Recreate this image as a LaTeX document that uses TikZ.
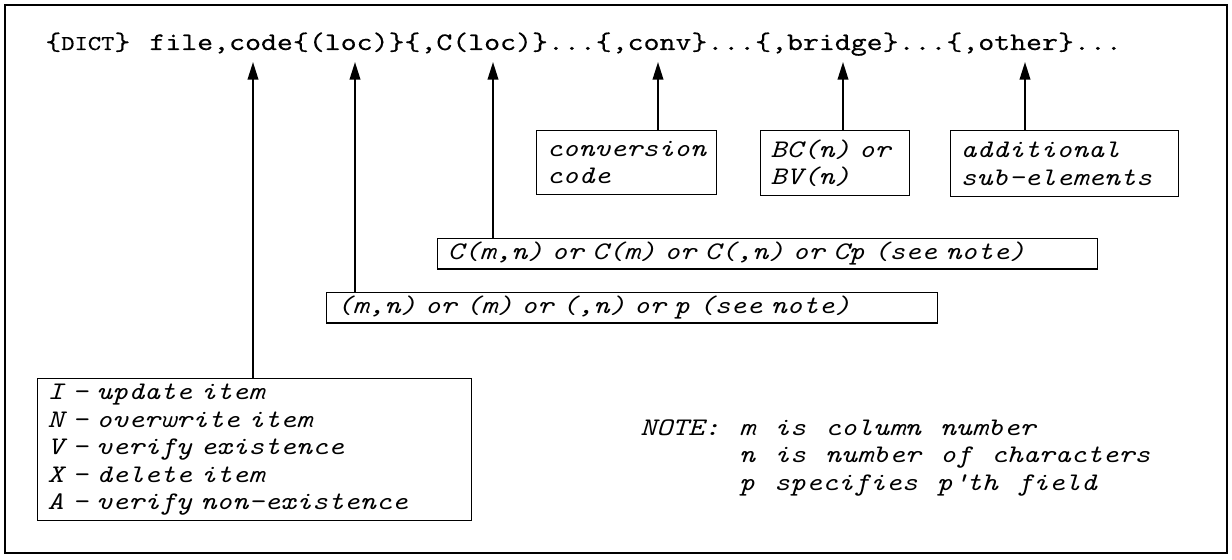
\documentclass[tikz,border=0pt]{standalone}
\usepackage{fontspec}
\usetikzlibrary{arrows.meta}
\newfontfamily\cmdfont{lmmono10-regular.otf}[FakeStretch=1.2, WordSpace={1.2,0,0}, FakeBold=0.3]
\newfontfamily\itfont{lmmono10-italic.otf}[FakeStretch=1.2, WordSpace={1.2,0,0}]

\begin{document}
\begin{tikzpicture}[x=0.02cm, y=-0.02cm,
  every node/.style={inner sep=0pt},
  cmd/.style={font=\cmdfont\fontsize{14.4}{15.9}\selectfont, anchor=base west},
  txt/.style={font=\itfont\fontsize{14.4}{15.7}\selectfont},
  box/.style={txt, draw, line width=0.8pt, align=left, anchor=north west, inner xsep=0.2cm},
  arr/.style={line width=1.1pt, -{Triangle[length=10pt,width=6pt]}}]
  \useasboundingbox (0,0) rectangle (1232,560);

  % outer frame
  \draw[line width=1.1pt] (5,5) rectangle (1227,553);

  % statement format
  \node[cmd] (cmdline) at (45,50) {\{{\fontsize{12}{12}\selectfont DICT}\} file,code\{(loc)\}\{,C(loc)\}...\{,conv\}...\{,bridge\}...\{,other\}...};

  % arrow tips under the fields
  \coordinate (tcode) at (253,62);
  \coordinate (tloc) at (355,62);
  \coordinate (tcloc) at (493,62);
  \coordinate (tconv) at (658,62);
  \coordinate (tbrdg) at (843,62);
  \coordinate (tothr) at (1025,62);

  % sub-element boxes
  \node[box, text width=3.2cm, minimum height=1.28cm] (conv) at (536,130) {conversion\\code};
  \node[box, text width=2.58cm, minimum height=1.3cm] (brdg) at (760,130) {BC(n) or\\BV(n)};
  \node[box, text width=4.16cm, minimum height=1.32cm] (othr) at (950,130) {additional\\sub-elements};
  \node[box, text width=12.8cm, inner ysep=0.07cm] (cloc) at (437,238) {C(m,n) or C(m) or C(,n) or Cp (see note)};
  \node[box, text width=11.82cm, inner ysep=0.07cm] (loc) at (326,292) {(m,n) or (m) or (,n) or p (see note)};
  \node[box, text width=8.28cm, minimum height=2.84cm] (code) at (37,378) {I - update item\\N - overwrite item\\V - verify existence\\X - delete item\\A - verify non-existence};

  % arrows
  \draw[arr] (code.north -| tcode) -- (tcode);
  \draw[arr] (loc.north -| tloc) -- (tloc);
  \draw[arr] (cloc.north -| tcloc) -- (tcloc);
  \draw[arr] (conv.north -| tconv) -- (tconv);
  \draw[arr] (brdg.north -| tbrdg) -- (tbrdg);
  \draw[arr] (othr.north -| tothr) -- (tothr);

  % note
  \node[txt, align=left, anchor=north west] (note) at (640,419) {NOTE:\ m is column number\\\phantom{NOTE:\ }n is number of characters\\\phantom{NOTE:\ }p specifies p\textquotesingle th field};
\end{tikzpicture}
\end{document}
